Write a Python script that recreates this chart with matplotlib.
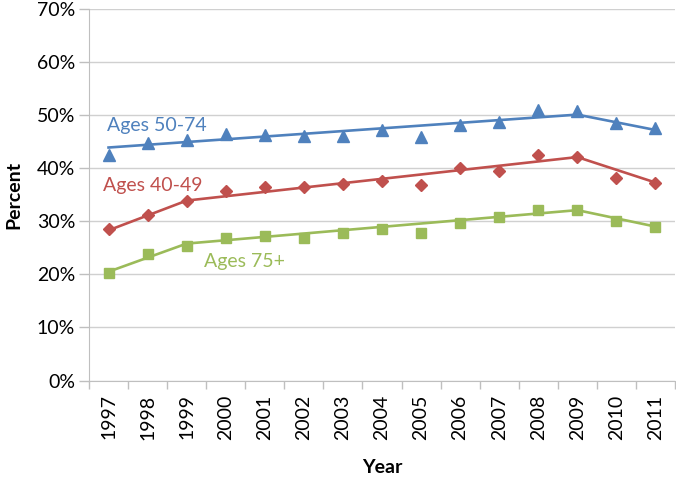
import matplotlib
matplotlib.use("Agg")
import matplotlib.pyplot as plt
import numpy as np

years = [str(y) for y in range(1997, 2012)]

ages_50_74 = [42.4, 44.7, 45.4, 46.4, 46.3, 46.1, 46.1, 47.2, 45.8, 48.1, 48.8, 50.9, 50.8, 48.6, 47.5]
ages_40_49 = [28.5, 31.2, 33.8, 35.8, 36.4, 36.5, 37.0, 37.5, 36.8, 40.0, 39.4, 42.4, 42.1, 38.1, 37.3]
ages_75p = [20.3, 23.9, 25.3, 26.9, 27.3, 26.9, 27.8, 28.6, 27.8, 29.6, 30.9, 32.2, 32.1, 30.0, 29.0]

# joinpoint trend lines (year, value)
trend_50_74_years = [1997, 2009, 2011]
trend_50_74 = [43.9, 50.1, 47.2]
trend_40_49_years = [1997, 1999, 2009, 2011]
trend_40_49 = [28.3, 33.9, 42.1, 37.3]
trend_75p_years = [1997, 1999, 2009, 2011]
trend_75p = [20.5, 25.8, 32.1, 29.0]

blue = "#4F81BD"
red = "#C0504D"
green = "#9BBB59"

plt.rcParams['font.family'] = ['Lato', 'DejaVu Sans']

fig = plt.figure(figsize=(6.76, 4.78), dpi=100)
ax = fig.add_axes([89/676, 1-380.5/478, (675-89)/676, (380.5-9)/478])

x = np.arange(len(years))
def tx(yrs):
    return [y - 1997 for y in yrs]

ax.plot(tx(trend_50_74_years), trend_50_74, color=blue, lw=1.9, zorder=3)
ax.plot(tx(trend_40_49_years), trend_40_49, color=red, lw=1.9, zorder=3)
ax.plot(tx(trend_75p_years), trend_75p, color=green, lw=1.9, zorder=3)

ax.plot(x, ages_50_74, linestyle='none', marker='^', ms=8.5, color=blue, zorder=4)
ax.plot(x, ages_40_49, linestyle='none', marker='D', ms=6, color=red, zorder=4)
ax.plot(x, ages_75p, linestyle='none', marker='s', ms=7.5, color=green, zorder=4)

ax.text(-0.05, 48.1, "Ages 50-74", color=blue, fontsize=14, va='center', ha='left')
ax.text(-0.15, 36.7, "Ages 40-49", color=red, fontsize=14, va='center', ha='left')
ax.text(2.45, 22.4, "Ages 75+", color=green, fontsize=14, va='center', ha='left')

ax.set_xlim(-0.5, len(years) - 0.5)
ax.set_ylim(0, 70)
ax.set_yticks(np.arange(0, 71, 10))
ax.set_yticklabels([f"{v}%" for v in range(0, 71, 10)], fontsize=14)
ax.set_xticks(x)
ax.set_xticklabels(years, rotation=90, fontsize=14)
ax.set_xticks(np.arange(-0.5, len(years), 1.0), minor=True)
ax.tick_params(axis='x', which='major', length=0, pad=10)
ax.tick_params(axis='x', which='minor', length=6, color='#BFBFBF', width=1)
ax.tick_params(axis='y', length=7, color='#BFBFBF', width=1, pad=3)

ax.yaxis.grid(True, color='#D0D0D0', lw=1)
ax.set_axisbelow(True)
for s in ['top', 'right']:
    ax.spines[s].set_visible(False)
ax.spines['left'].set_color('#BFBFBF')
ax.spines['bottom'].set_color('#BFBFBF')

ax.set_ylabel("Percent", fontsize=14, fontweight='bold', labelpad=10)
ax.set_xlabel("Year", fontsize=14, fontweight='bold', labelpad=14)

fig.savefig("out.png", dpi=100)
